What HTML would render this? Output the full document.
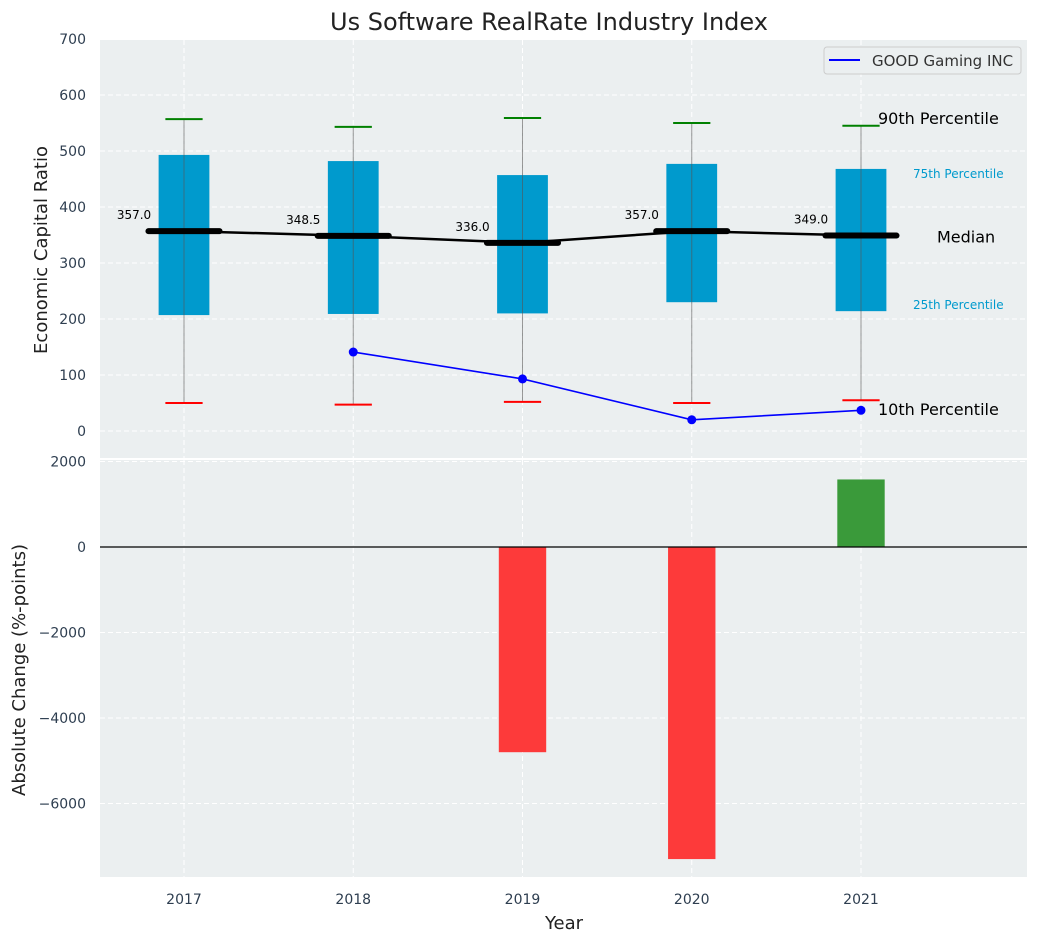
<!DOCTYPE html>
<html><head><meta charset="utf-8"><style>
body{margin:0;background:#fff;font-family:"Liberation Sans","DejaVu Sans",sans-serif}
svg text{font-family:"DejaVu Sans","Liberation Sans",sans-serif}
</style></head><body>
<svg id="c" width="1039" height="942" xmlns="http://www.w3.org/2000/svg"></svg>
<script>
const years=[2017,2018,2019,2020,2021];
const p10=[50,47,52,50,55];
const p25=[207,209,210,230,214];
const med=[357,348.5,336,357,349];
const p75=[493,482,457,477,468];
const p90=[557,543,559,550,545];
const compYears=[2018,2019,2020,2021];
const compVals=[141,93,20,37];
const chgYears=[2019,2020,2021];
const chgVals=[-4800,-7300,1580];
const topTicks=[0,100,200,300,400,500,600,700];
const botTicks=[2000,0,-2000,-4000,-6000];

const svg=document.getElementById('c');const NS='http://www.w3.org/2000/svg';
function mk(t,a,p,txt){const e=document.createElementNS(NS,t);for(const k in a)e.setAttribute(k,a[k]);if(txt!==undefined)e.textContent=txt;(p||svg).appendChild(e);return e;}
const L=100,R=1027;
const PX=169.25;
const x=v=>184+(v-2017)*PX;
const T0=40,T1=458;const yT=v=>431+(0-v)*(431-39)/700;
const B0=460,B1=877;const yB=v=>547-v*(85.5/2000);
const fmt=v=>String(v).replace('-','\u2212');

let e;
e=mk('rect',{x:L,y:T0,width:R-L,height:T1-T0,fill:'#ebeff0'});
e=mk('rect',{x:L,y:B0,width:R-L,height:B1-B0,fill:'#ebeff0'});
topTicks.forEach(v=>{mk('line',{x1:L,x2:R,y1:yT(v),y2:yT(v),stroke:'#fff','stroke-dasharray':'5,3'});
 e=mk('text',{x:86,y:yT(v)+5,'text-anchor':'end','font-size':14,fill:'#2e3e50'},null,fmt(v));});
botTicks.forEach(v=>{mk('line',{x1:L,x2:R,y1:yB(v),y2:yB(v),stroke:'#fff','stroke-dasharray':'5,3'});
 e=mk('text',{x:86,y:yB(v)+5,'text-anchor':'end','font-size':14,fill:'#2e3e50'},null,fmt(v));});
years.forEach(yr=>{mk('line',{x1:x(yr),x2:x(yr),y1:T0,y2:T1,stroke:'#fff','stroke-dasharray':'5,3'});
 mk('line',{x1:x(yr),x2:x(yr),y1:B0,y2:B1,stroke:'#fff','stroke-dasharray':'5,3'});
 e=mk('text',{x:x(yr),y:904,'text-anchor':'middle','font-size':14,fill:'#2e3e50'},null,yr);});
const bw=0.3*PX, mw=0.42*PX, cw=0.11*PX;
years.forEach((yr,i)=>{const cx=x(yr);
 e=mk('rect',{x:cx-bw/2,y:yT(p75[i]),width:bw,height:yT(p25[i])-yT(p75[i]),fill:'#009acd'});
 mk('line',{x1:cx,x2:cx,y1:yT(p90[i]),y2:yT(p10[i]),stroke:'#555','stroke-opacity':0.6,'stroke-width':1});
 e=mk('line',{x1:cx-cw,x2:cx+cw,y1:yT(p90[i]),y2:yT(p90[i]),stroke:'green','stroke-width':2});
 e=mk('line',{x1:cx-cw,x2:cx+cw,y1:yT(p10[i]),y2:yT(p10[i]),stroke:'red','stroke-width':2});
 e=mk('text',{x:cx-50,y:yT(med[i])-12,'text-anchor':'middle','font-size':12,fill:'#000'},null,med[i].toFixed(1));
});
e=mk('polyline',{points:years.map((yr,i)=>x(yr)+','+yT(med[i])).join(' '),fill:'none',stroke:'#000','stroke-width':2.5});
years.forEach((yr,i)=>{e=mk('line',{x1:x(yr)-mw/2,x2:x(yr)+mw/2,y1:yT(med[i]),y2:yT(med[i]),stroke:'#000','stroke-width':6,'stroke-linecap':'round'});});
e=mk('polyline',{points:compYears.map((yr,i)=>x(yr)+','+yT(compVals[i])).join(' '),fill:'none',stroke:'blue','stroke-width':1.6});
compYears.forEach((yr,i)=>{e=mk('circle',{cx:x(yr),cy:yT(compVals[i]),r:4.5,fill:'blue'});});
const lx=x(2021);const last=years.length-1;
[['90th Percentile',lx+17,yT(p90[last])-2,16,'#000'],['75th Percentile',lx+52,yT(p75[last])+9,12,'#009acd'],['Median',lx+76,yT(med[last])+7,16,'#000'],['25th Percentile',lx+52,yT(p25[last])-2,12,'#009acd'],['10th Percentile',lx+17,yT(p10[last])+15,16,'#000']].forEach(a=>{
 e=mk('text',{x:a[1],y:a[2],'font-size':a[3],fill:a[4]},null,a[0]);});
const lg=mk('g',{});
mk('rect',{x:824,y:47,width:197,height:27,rx:3,fill:'#ebeff0',stroke:'#ccc'},lg);
mk('line',{x1:829,x2:860,y1:60,y2:60,stroke:'blue','stroke-width':2},lg);
mk('text',{x:872,y:66,'font-size':15,fill:'#333'},lg,'GOOD Gaming INC');
const barw=0.28*PX;
chgYears.forEach((yr,i)=>{const v=chgVals[i];e=mk('rect',{x:x(yr)-barw/2,y:Math.min(yB(0),yB(v)),width:barw,height:Math.abs(yB(v)-yB(0)),fill:v<0?'#fd3a3a':'#3a9a3a'});});
e=mk('line',{x1:L,x2:R,y1:yB(0),y2:yB(0),stroke:'#000','stroke-width':1.3});
e=mk('text',{x:549,y:30,'text-anchor':'middle','font-size':24,fill:'#222'},null,'Us Software RealRate Industry Index');
e=mk('text',{x:47,y:250,'text-anchor':'middle','font-size':18,fill:'#222',transform:'rotate(-90 47 250)'},null,'Economic Capital Ratio');
e=mk('text',{x:25,y:670,'text-anchor':'middle','font-size':18,fill:'#222',transform:'rotate(-90 25 670)'},null,'Absolute Change (%-points)');
e=mk('text',{x:564,y:929,'text-anchor':'middle','font-size':18,fill:'#222'},null,'Year');
</script></body></html>
